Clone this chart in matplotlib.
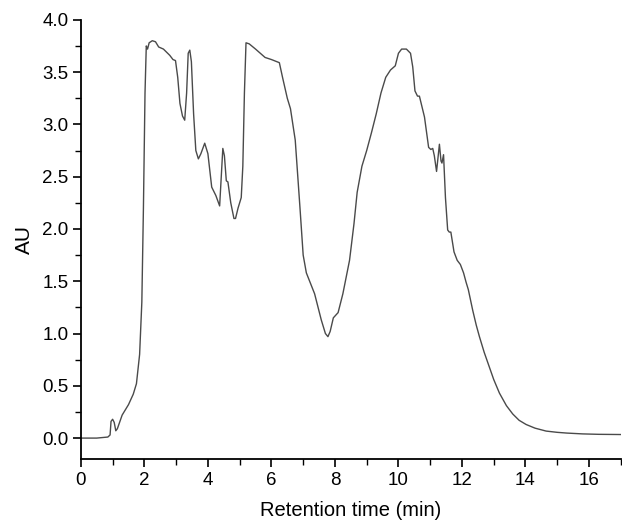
import matplotlib
matplotlib.use("Agg")
import matplotlib.pyplot as plt
from matplotlib.ticker import MultipleLocator, FormatStrFormatter

plt.rcParams['font.family'] = ['Liberation Sans', 'DejaVu Sans']

# chromatogram (min, AU)
time_min = [0.0, 0.5, 0.85, 0.92, 0.95, 1.0, 1.05, 1.1, 1.15, 1.3, 1.5, 1.65, 1.75,
            1.85, 1.92, 1.97, 2.02, 2.06, 2.1, 2.15, 2.25, 2.35, 2.45, 2.6, 2.8, 2.9,
            2.98, 3.05, 3.12, 3.2, 3.27, 3.33, 3.38, 3.43, 3.48, 3.55, 3.62, 3.7, 3.78,
            3.9, 4.0, 4.12, 4.25, 4.37, 4.42, 4.47, 4.52, 4.58, 4.63, 4.72, 4.82, 4.87,
            4.95, 5.05, 5.1, 5.15, 5.2, 5.3, 5.5, 5.8, 6.0, 6.25, 6.35, 6.5, 6.6, 6.75,
            6.9, 7.0, 7.1, 7.36, 7.57, 7.7, 7.78, 7.85, 7.95, 8.1, 8.25, 8.46, 8.6, 8.7,
            8.85, 9.0, 9.15, 9.3, 9.45, 9.6, 9.75, 9.9, 10.0, 10.1, 10.25, 10.38, 10.45,
            10.52, 10.6, 10.66, 10.82, 10.95, 11.02, 11.08, 11.13, 11.2, 11.25, 11.29,
            11.34, 11.37, 11.42, 11.48, 11.55, 11.6, 11.65, 11.75, 11.85, 11.95, 12.05,
            12.13, 12.2, 12.34, 12.45, 12.55, 12.7, 12.86, 13.0, 13.18, 13.4, 13.6,
            13.8, 14.02, 14.3, 14.65, 15.0, 15.3, 15.8, 16.3, 17.0]
au = [0.0, 0.0, 0.01, 0.03, 0.16, 0.18, 0.15, 0.07, 0.09, 0.22, 0.32, 0.42, 0.52,
      0.8, 1.3, 2.2, 3.3, 3.75, 3.72, 3.78, 3.8, 3.79, 3.74, 3.72, 3.66, 3.62,
      3.61, 3.45, 3.2, 3.08, 3.04, 3.3, 3.68, 3.71, 3.6, 3.1, 2.75, 2.67, 2.72,
      2.82, 2.72, 2.4, 2.32, 2.22, 2.5, 2.77, 2.7, 2.46, 2.45, 2.25, 2.1, 2.1,
      2.2, 2.3, 2.6, 3.3, 3.78, 3.77, 3.72, 3.64, 3.62, 3.59, 3.45, 3.25, 3.15, 2.85,
      2.2, 1.75, 1.58, 1.38, 1.13, 1.0, 0.97, 1.02, 1.15, 1.2, 1.38, 1.7, 2.05, 2.35,
      2.6, 2.75, 2.92, 3.1, 3.3, 3.45, 3.52, 3.56, 3.68, 3.72, 3.72, 3.68, 3.55,
      3.32, 3.27, 3.27, 3.07, 2.78, 2.76, 2.77, 2.7, 2.55, 2.7, 2.81,
      2.65, 2.63, 2.71, 2.3, 1.99, 1.97, 1.97, 1.78, 1.7, 1.66, 1.58,
      1.49, 1.42, 1.22, 1.08, 0.97, 0.82, 0.68, 0.56, 0.43, 0.31, 0.23,
      0.17, 0.13, 0.095, 0.067, 0.055, 0.048, 0.04, 0.036, 0.034]

fig = plt.figure(figsize=(6.22, 5.21), dpi=100)
ax = fig.add_axes([0.130, 0.119, 0.868, 0.843])
ax.plot(time_min, au, color='#4a4a4a', lw=1.0)

ax.set_xlim(0, 17)
ax.set_ylim(-0.2, 4.0)
ax.xaxis.set_major_locator(MultipleLocator(2))
ax.xaxis.set_minor_locator(MultipleLocator(1))
ax.yaxis.set_major_locator(MultipleLocator(0.5))
ax.yaxis.set_minor_locator(MultipleLocator(0.25))
ax.yaxis.set_major_formatter(FormatStrFormatter('%.1f'))

ax.spines['top'].set_visible(False)
ax.spines['right'].set_visible(False)
for s in ('left', 'bottom'):
    ax.spines[s].set_linewidth(1.3)
ax.tick_params(which='major', direction='out', length=6, width=1.2, labelsize=13.5, pad=3)
ax.tick_params(which='minor', direction='out', length=4, width=1.0)

ax.set_xlabel('Retention time (min)', fontsize=14.5, labelpad=9)
ax.set_ylabel('AU', fontsize=15, labelpad=6)

fig.savefig('out.png', dpi=100)
